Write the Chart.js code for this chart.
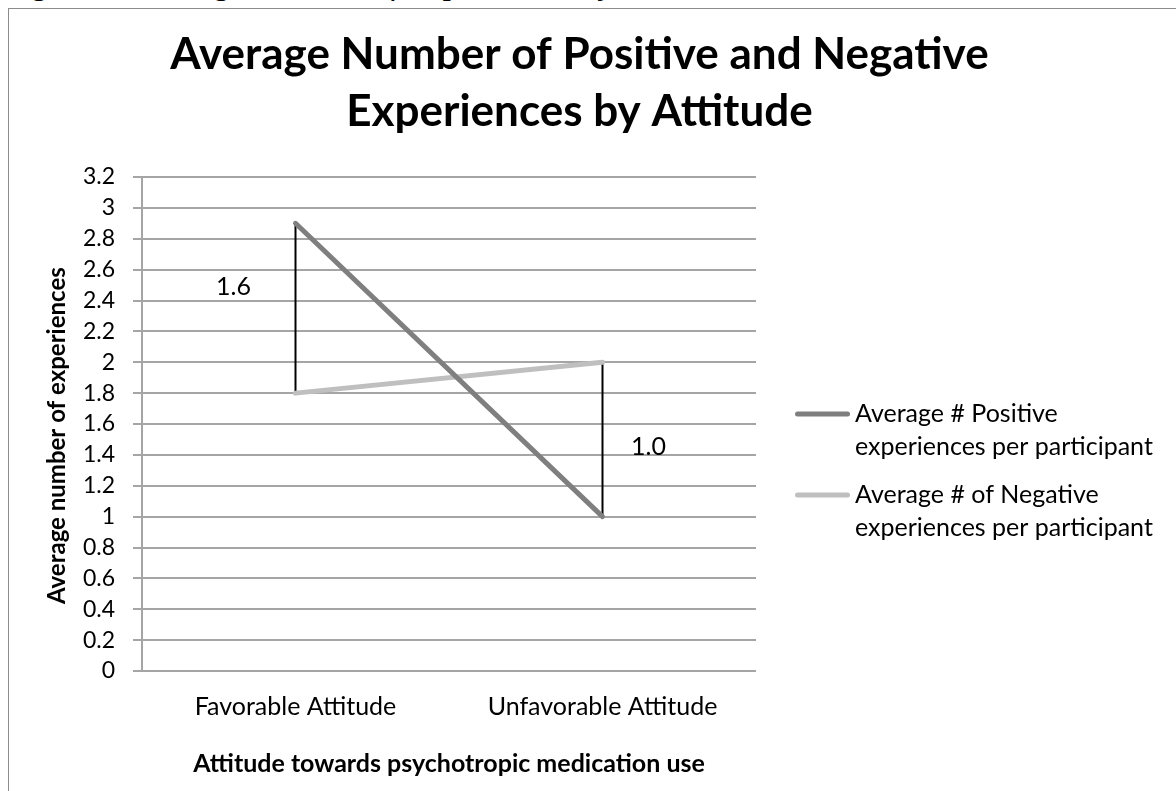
<!DOCTYPE html>
<html lang="en">
<head>
<meta charset="UTF-8">
<title>Average Number of Positive and Negative Experiences by Attitude</title>
<script src="https://cdn.jsdelivr.net/npm/chart.js@4"></script>
<style>
  html, body {
    margin: 0;
    padding: 0;
    background: #fff;
    overflow: hidden;
  }
  .caption {
    position: absolute;
    left: 3px;
    top: -34px;
    font-family: 'Liberation Serif', serif;
    font-style: italic;
    font-size: 34px;
    line-height: 34px;
    white-space: nowrap;
    color: #000;
  }
  .frame {
    position: absolute;
    left: 8px;
    top: 8px;
    width: 1200px;
    height: 800px;
    border-left: 1px solid #8c8c8c;
    border-top: 1px solid #8c8c8c;
  }
  .chart-box {
    position: absolute;
    left: 0;
    top: 0;
    width: 1176px;
    height: 791px;
  }
</style>
</head>
<body>
  <div class="caption">Figure 4. Average Number of Experiences by Attitude</div>
  <div class="frame"></div>
  <div class="chart-box"><canvas id="myChart" width="1176" height="791"></canvas></div>

<script>
const categories = ['Favorable Attitude', 'Unfavorable Attitude'];
const positive = [2.9, 1.0];
const negative = [1.8, 2.0];
const gapLabels = ['1.6', '1.0'];
const yTickLabels = ['0', '0.2', '0.4', '0.6', '0.8', '1', '1.2', '1.4', '1.6',
                     '1.8', '2', '2.2', '2.4', '2.6', '2.8', '3', '3.2'];
const legendLines = [
  ['Average # Positive', 'experiences per participant'],
  ['Average # of Negative', 'experiences per participant']
];

const FONT = 'Lato, "Open Sans", sans-serif';

// black vertical lines between the two series + their labels
const gapLines = {
  id: 'gapLines',
  beforeDatasetsDraw(chart) {
    const {ctx, scales: {x, y}} = chart;
    ctx.save();
    ctx.strokeStyle = '#000';
    ctx.lineWidth = 2;
    categories.forEach((c, i) => {
      const px = x.getPixelForValue(i);
      ctx.beginPath();
      ctx.moveTo(px, y.getPixelForValue(positive[i]));
      ctx.lineTo(px, y.getPixelForValue(negative[i]));
      ctx.stroke();
    });
    ctx.restore();
  },
  afterDatasetsDraw(chart, args, opts) {
    const {ctx, scales: {x, y}} = chart;
    ctx.save();
    ctx.fillStyle = '#000';
    ctx.font = '25px ' + FONT;
    ctx.textAlign = 'center';
    ctx.textBaseline = 'middle';
    gapLabels.forEach((t, i) => {
      const p = opts.anchors[i];
      ctx.fillText(t, x.getPixelForValue(i) + p.dx, y.getPixelForValue(p.v));
    });
    ctx.restore();
  }
};

// two-line legend drawn in the space kept free by the spacer axis
const sideLegend = {
  id: 'sideLegend',
  afterDraw(chart, args, opts) {
    const {ctx, chartArea} = chart;
    ctx.save();
    ctx.font = '25px ' + FONT;
    ctx.fillStyle = '#000';
    ctx.textAlign = 'left';
    ctx.textBaseline = 'middle';
    chart.data.datasets.forEach((ds, i) => {
      const y0 = chartArea.top + opts.top + i * opts.itemGap;
      const x0 = chartArea.right + opts.markerStart;
      ctx.strokeStyle = ds.borderColor;
      ctx.lineWidth = ds.borderWidth;
      ctx.lineCap = 'round';
      ctx.beginPath();
      ctx.moveTo(x0, y0);
      ctx.lineTo(x0 + opts.markerLength, y0);
      ctx.stroke();
      legendLines[i].forEach((line, j) => {
        ctx.fillText(line, chartArea.right + opts.textStart, y0 + j * opts.lineHeight);
      });
    });
    ctx.restore();
  }
};

const ctx = document.getElementById('myChart').getContext('2d');
const myChart = new Chart(ctx, {
  type: 'line',
  data: {
    labels: categories,
    datasets: [
      {
        label: 'Average # Positive experiences per participant',
        data: positive,
        borderColor: '#7f7f7f',
        backgroundColor: '#7f7f7f',
        borderWidth: 5,
        borderCapStyle: 'round',
        pointRadius: 0,
        tension: 0
      },
      {
        label: 'Average # of Negative experiences per participant',
        data: negative,
        borderColor: '#bfbfbf',
        backgroundColor: '#bfbfbf',
        borderWidth: 5,
        borderCapStyle: 'round',
        pointRadius: 0,
        tension: 0
      }
    ]
  },
  options: {
    responsive: false,
    animation: false,
    layout: { padding: { left: 0, right: 17, top: 0, bottom: 0 } },
    scales: {
      x: {
        offset: true,
        grid: { display: false, drawTicks: false },
        border: { display: false },
        ticks: { color: '#000', padding: 21, font: { family: FONT, size: 25 } },
        title: {
          display: true,
          text: 'Attitude towards psychotropic medication use',
          color: '#000',
          font: { family: FONT, size: 25, weight: 'bold' },
          padding: { top: 0, bottom: 12 }
        },
        afterFit(scale) { scale.height = 120; }
      },
      y: {
        min: 0,
        max: 3.2,
        ticks: {
          stepSize: 0.2,
          color: '#000',
          padding: 18,
          font: { family: FONT, size: 23 },
          callback: (v, i) => yTickLabels[i]
        },
        grid: { color: '#a5a5a5', lineWidth: 2, tickLength: 9 },
        border: { display: true, color: '#a5a5a5', width: 2 },
        title: {
          display: true,
          // trailing spaces nudge the rotated title a little lower, as in the original
          text: 'Average number of experiences    ',
          color: '#000',
          font: { family: FONT, size: 24, weight: 'bold' },
          padding: { top: 43, bottom: 0 }
        },
        afterFit(scale) { scale.width = 142; }
      },
      // empty spacer on the right that holds the legend area
      gap: {
        type: 'linear',
        position: 'right',
        grid: { display: false, drawTicks: false },
        border: { display: false },
        ticks: { display: false },
        afterFit(scale) { scale.width = 403; }
      }
    },
    plugins: {
      title: {
        display: true,
        text: ['Average Number of Positive and Negative', 'Experiences by Attitude'],
        color: '#000',
        font: { family: FONT, size: 44, weight: 'bold', lineHeight: '57px' },
        padding: { top: 26.5, bottom: 36.5 }
      },
      legend: { display: false },
      tooltip: { enabled: false },
      gapLines: {
        anchors: [{ dx: -62, v: 2.49 }, { dx: 46, v: 1.45 }]
      },
      sideLegend: {
        top: 237,
        itemGap: 81,
        lineHeight: 33,
        markerStart: 41.5,
        markerLength: 50,
        textStart: 99
      }
    }
  },
  plugins: [gapLines, sideLegend]
});
</script>
</body>
</html>
